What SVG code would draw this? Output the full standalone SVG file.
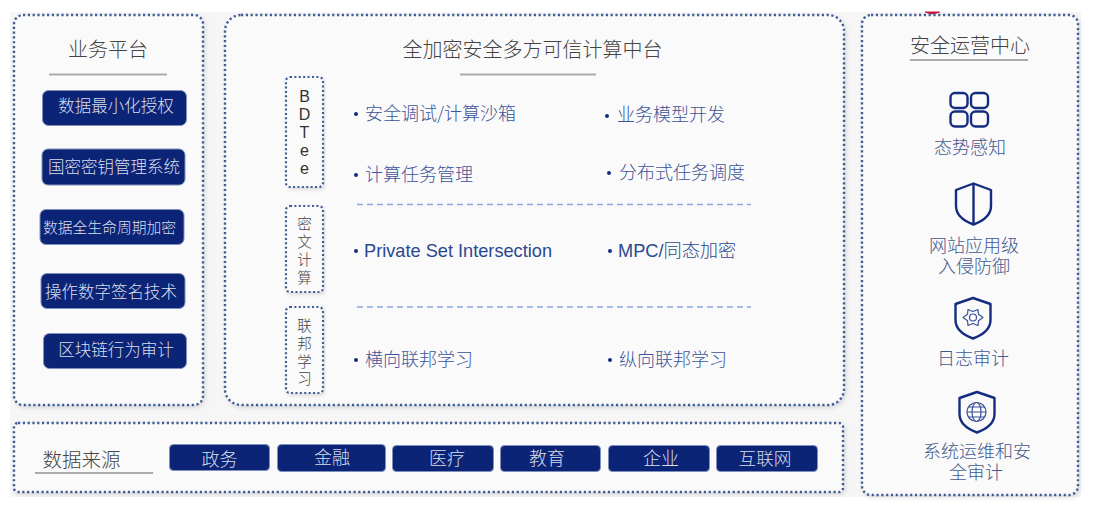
<svg xmlns="http://www.w3.org/2000/svg" width="1094" height="514" viewBox="0 0 1094 514">
<style>
text{font-family:"Noto Sans CJK SC","Liberation Sans",sans-serif}
.panel{fill:#fafafa;stroke:#3f5b98;stroke-width:2.4;stroke-dasharray:2.2 2.6;filter:url(#sh)}
.side{fill:#fafafa;stroke:#3f5b98;stroke-width:2.2;stroke-dasharray:2 2.4;filter:url(#sh)}
.btn{fill:#0b2475;stroke:#7f90bd;stroke-width:1}
.bt{fill:#d8deee;font-size:16.500px;text-anchor:middle;font-weight:300}
.h{fill:#444;font-size:20px;text-anchor:middle;font-weight:300}
.rule{stroke:#ababab;stroke-width:2.2}
.it{fill:#3a5599;font-size:18px;font-weight:300}
.dot{fill:#142c80}
.v{fill:#444;font-size:14.500px;text-anchor:middle;font-weight:300}
.l{fill:#333;font-size:16px;text-anchor:middle;font-family:"Liberation Sans",sans-serif}
.c{fill:#41598f;font-size:18px;text-anchor:middle;font-weight:300}
.ic{fill:none;stroke:#142c80;stroke-width:2.4;stroke-linejoin:round}
.ict{fill:none;stroke:#3a5196;stroke-width:1.2;stroke-linejoin:round}
.dash{stroke:#8fa8dc;stroke-width:1.4;stroke-dasharray:6 4}
.en{font-family:"Liberation Sans",sans-serif}
</style>
<defs><filter id="sh" x="-5%" y="-5%" width="112%" height="112%"><feDropShadow dx="1.5" dy="2" stdDeviation="2" flood-color="#000" flood-opacity=".13"/></filter></defs>
<rect x="10" y="12" width="1071" height="485" fill="#f6f6f6"/>
<path d="M925 12.500q7 3.500 15 0v-1h-15z" fill="#c8173d"/>
<g id="biz">
<rect class="panel" x="14" y="15" width="189" height="390" rx="9"/>
<text class="h" x="108" y="57">业务平台</text>
<line class="rule" x1="49" y1="74.500" x2="167" y2="74.500"/>
</g>
<g id="b1"><rect class="btn" x="42.500" y="90.500" width="144" height="35" rx="6"/><text class="bt" x="116" y="112">数据最小化授权</text></g>
<g id="b2"><rect class="btn" x="42" y="149" width="143" height="36" rx="6"/><text class="bt" x="114" y="172.500">国密密钥管理系统</text></g>
<g id="b3"><rect class="btn" x="40" y="209.500" width="144" height="35" rx="6"/><text class="bt" x="109.500" y="233" style="font-size:14.800px">数据全生命周期加密</text></g>
<g id="b4"><rect class="btn" x="41" y="273.500" width="144" height="35" rx="6"/><text class="bt" x="111" y="298">操作数字签名技术</text></g>
<g id="b5"><rect class="btn" x="43.500" y="333.500" width="143" height="35" rx="6"/><text class="bt" x="116" y="355.500">区块链行为审计</text></g>
<g id="core">
<rect class="panel" x="225" y="15" width="619" height="390" rx="16"/>
<text class="h" x="532.500" y="57">全加密安全多方可信计算中台</text>
<line class="rule" x1="460" y1="74.500" x2="596" y2="74.500"/>
<line class="dash" x1="357" y1="204.500" x2="751" y2="204.500"/>
<line class="dash" x1="357" y1="307" x2="751" y2="307"/>
</g>
<g id="tee"><rect class="side" x="286" y="77" width="37" height="110" rx="4"/>
<text class="l"><tspan x="304.500" y="102">B</tspan><tspan x="304.500" y="120">D</tspan><tspan x="304.500" y="138">T</tspan><tspan x="304.500" y="156">e</tspan><tspan x="304.500" y="174">e</tspan></text></g>
<g id="cipher"><rect class="side" x="286" y="206" width="37" height="86" rx="4"/>
<text class="v"><tspan x="304.500" y="229">密</tspan><tspan x="304.500" y="247">文</tspan><tspan x="304.500" y="265">计</tspan><tspan x="304.500" y="282.500">算</tspan></text></g>
<g id="fed"><rect class="side" x="286" y="307" width="37" height="86" rx="4"/>
<text class="v"><tspan x="304.500" y="331">联</tspan><tspan x="304.500" y="349">邦</tspan><tspan x="304.500" y="367">学</tspan><tspan x="304.500" y="384">习</tspan></text></g>
<g id="items">
<circle class="dot" cx="356" cy="114" r="2"/><text class="it" x="365" y="120">安全调试/计算沙箱</text>
<circle class="dot" cx="607" cy="116" r="2"/><text class="it" x="617" y="121">业务模型开发</text>
<circle class="dot" cx="356" cy="175" r="2"/><text class="it" x="365" y="180.500">计算任务管理</text>
<circle class="dot" cx="609" cy="173" r="2"/><text class="it" x="619" y="178.500">分布式任务调度</text>
<circle class="dot" cx="356" cy="251" r="2"/><text class="it en" x="364" y="257" style="font-family:'Liberation Sans',sans-serif;fill:#2b4890;font-size:18.200px;font-weight:400">Private Set Intersection</text>
<circle class="dot" cx="610" cy="251" r="2"/><text class="it" x="618" y="256.500" style="fill:#2b4890;font-size:18.200px"><tspan class="en" style="font-weight:400">MPC/</tspan>同态加密</text>
<circle class="dot" cx="356" cy="360" r="2"/><text class="it" x="365" y="366">横向联邦学习</text>
<circle class="dot" cx="610" cy="360" r="2"/><text class="it" x="619" y="366">纵向联邦学习</text>
</g>
<g id="ops">
<rect class="panel" x="862" y="15" width="216" height="480" rx="9"/>
<text class="h" x="970" y="53">安全运营中心</text>
<line class="rule" x1="910" y1="60" x2="1028" y2="60"/>
</g>
<g id="op1"><rect class="ic" x="950.500" y="93" width="17" height="15" rx="4.500"/><rect class="ic" x="971" y="93" width="17" height="15" rx="4.500"/><rect class="ic" x="950.500" y="111.500" width="17" height="15" rx="4.500"/><rect class="ic" x="971" y="111.500" width="17" height="15" rx="4.500"/><text class="c" x="970" y="154">态势感知</text></g>
<g id="op2"><path class="ic" d="M973.500 183.500 956 190v16c0 9 8 15 17.500 18.500 9.500-3.500 17.500-9.500 17.500-18.500v-16z"/><line class="ic" x1="973.500" y1="184" x2="973.500" y2="224"/><text class="c"><tspan x="974" y="252">网站应用级</tspan><tspan x="974" y="273">入侵防御</tspan></text></g>
<g id="op3"><path class="ic" d="M973 298 955.500 304v16c0 9 8 15 17.500 18.500 9.500-3.500 17.500-9.500 17.500-18.500v-16z"/><path class="ict" d="M983 317.500 978.500 314.200 978 309.500 973 311.500 968 309.500 967.500 314.200 963 317.500 967.500 320.800 968 325.500 973 323.500 978 325.500 978.500 320.800z"/><circle class="ict" cx="973" cy="317.500" r="3.500"/><text class="c" x="973" y="365">日志审计</text></g>
<g id="op4"><path class="ic" d="M977 392 959.500 398v16c0 9 8 15 17.500 18.500 9.500-3.500 17.500-9.500 17.500-18.500v-16z"/><circle class="ict" cx="976.500" cy="412" r="9.500"/><ellipse class="ict" cx="976.500" cy="412" rx="4.500" ry="9.500"/><path class="ict" d="M967 412h19M968.500 407h16M968.500 417h16"/><text class="c"><tspan x="977" y="458">系统运维和安</tspan><tspan x="976" y="479">全审计</tspan></text></g>
<g id="src">
<rect class="panel" x="14" y="423" width="829" height="69" rx="4"/>
<text class="h" x="81.500" y="466.500" style="font-size:19.500px">数据来源</text>
<line class="rule" x1="35" y1="473" x2="153" y2="473"/>
</g>
<g id="s1"><rect class="btn" x="169.500" y="444.500" width="100" height="26" rx="4"/><text class="bt" x="219.500" y="465.500" style="font-size:18px">政务</text></g>
<g id="s2"><rect class="btn" x="277.500" y="444.500" width="108" height="27" rx="4"/><text class="bt" x="332" y="463.500" style="font-size:18px">金融</text></g>
<g id="s3"><rect class="btn" x="392.500" y="445.500" width="101" height="26" rx="4"/><text class="bt" x="447" y="464.500" style="font-size:18px">医疗</text></g>
<g id="s4"><rect class="btn" x="500.500" y="445.500" width="100" height="26" rx="4"/><text class="bt" x="547" y="464.500" style="font-size:18px">教育</text></g>
<g id="s5"><rect class="btn" x="608.500" y="445.500" width="101" height="26" rx="4"/><text class="bt" x="661" y="464.500" style="font-size:18px">企业</text></g>
<g id="s6"><rect class="btn" x="716.500" y="445.500" width="101" height="26" rx="4"/><text class="bt" x="765" y="464.500" style="font-size:17.600px">互联网</text></g>
</svg>
